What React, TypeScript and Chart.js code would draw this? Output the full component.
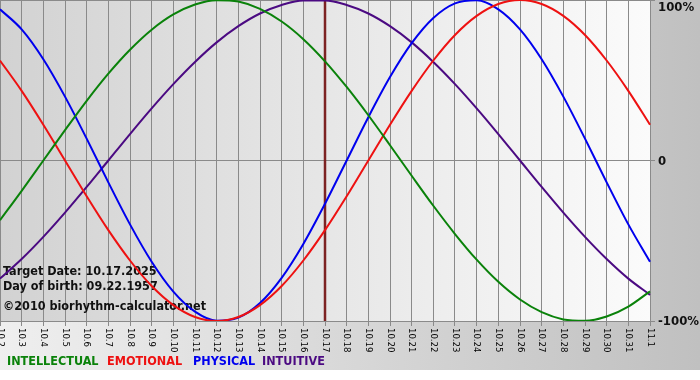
import React, { useEffect, useRef } from "react";
import { Chart, registerables } from "chart.js";

Chart.register(...registerables);

const days = [
  "10.2", "10.3", "10.4", "10.5", "10.6", "10.7", "10.8", "10.9", "10.10", "10.11",
  "10.12", "10.13", "10.14", "10.15", "10.16", "10.17", "10.18", "10.19", "10.20", "10.21",
  "10.22", "10.23", "10.24", "10.25", "10.26", "10.27", "10.28", "10.29", "10.30", "10.31", "11.1",
];

const intellectual = [-37.2, -18.9, 0, 18.9, 37.2, 54.1, 69.0, 81.5, 91.0, 97.2, 99.9, 99.0, 94.5, 86.6, 75.6, 61.8, 45.8, 28.2, 9.5, -9.5, -28.2, -45.8, -61.8, -75.6, -86.6, -94.5, -99.0, -99.9, -97.2, -91.0, -81.5];
const emotional = [62.3, 43.4, 22.3, 0, -22.3, -43.4, -62.3, -78.2, -90.1, -97.5, -100, -97.5, -90.1, -78.2, -62.3, -43.4, -22.3, 0, 22.3, 43.4, 62.3, 78.2, 90.1, 97.5, 100, 97.5, 90.1, 78.2, 62.3, 43.4, 22.3];
const physical = [94.2, 81.7, 63.1, 39.8, 13.6, -13.6, -39.8, -63.1, -81.7, -94.2, -99.8, -97.9, -88.8, -73.1, -52.0, -27.0, 0, 27.0, 52.0, 73.1, 88.8, 97.9, 99.8, 94.2, 81.7, 63.1, 39.8, 13.6, -13.6, -39.8, -63.1];
const intuitive = [-73.6, -61.4, -47.6, -32.5, -16.5, 0, 16.5, 32.5, 47.6, 61.4, 73.6, 83.7, 91.6, 96.9, 99.7, 99.7, 96.9, 91.6, 83.7, 73.6, 61.4, 47.6, 32.5, 16.5, 0, -16.5, -32.5, -47.6, -61.4, -73.6, -83.7];

const seriesNames = ["INTELLECTUAL", "EMOTIONAL", "PHYSICAL", "INTUITIVE"];
const seriesColors = ["#0a820a", "#ee1111", "#0000ee", "#4b0a82"];
const yTickValues = [100, 0, -100];
const yTickLabels = ["100%", "0", "-100%"];

const targetDay = "10.17";
const targetDateText = "Target Date: 10.17.2025";
const birthDateText = "Day of birth: 09.22.1957";
const copyrightText = "\u00a92010 biorhythm-calculator.net";

const FONT = "'DejaVu Sans Condensed', 'DejaVu Sans', sans-serif";

const decorPlugin = {
  id: "decor",
  beforeDraw(chart: any) {
    const { ctx, chartArea: a, width, height } = chart;
    ctx.save();
    ctx.fillStyle = "#ffffff";
    ctx.fillRect(0, 0, width, height);
    const g = ctx.createLinearGradient(0, 0, width, 0);
    g.addColorStop(0, "#efefef");
    g.addColorStop(1, "#c0c0c0");
    ctx.fillStyle = g;
    ctx.fillRect(0, 0, width, 370);
    const g2 = ctx.createLinearGradient(a.left, 0, a.right, 0);
    g2.addColorStop(0, "#d2d2d2");
    g2.addColorStop(1, "#fbfbfb");
    ctx.fillStyle = g2;
    ctx.fillRect(a.left, a.top, a.right - a.left, a.bottom - a.top);
    ctx.restore();
  },
  beforeDatasetsDraw(chart: any) {
    const { ctx, chartArea: a, scales } = chart;
    ctx.save();
    const tx = scales.x.getPixelForValue(days.indexOf(targetDay));
    ctx.strokeStyle = "#7d2323";
    ctx.lineWidth = 2.5;
    ctx.beginPath();
    ctx.moveTo(tx, a.top);
    ctx.lineTo(tx, a.bottom);
    ctx.stroke();

    ctx.fillStyle = "#111111";
    ctx.font = "bold 12.5px " + FONT;
    ctx.textAlign = "left";
    ctx.textBaseline = "middle";
    ctx.fillText(targetDateText, 3, 272);
    ctx.fillText(birthDateText, 3, 287);
    ctx.fillText(copyrightText, 3, 307);
    ctx.restore();
  },
  afterDraw(chart: any) {
    const { ctx, chartArea: a, scales } = chart;
    ctx.save();
    ctx.fillStyle = "#000000";
    ctx.font = "9.5px " + FONT;
    ctx.textAlign = "left";
    ctx.textBaseline = "middle";
    days.forEach((d, i) => {
      const x = scales.x.getPixelForValue(i);
      ctx.save();
      ctx.translate(x, a.bottom + 7);
      ctx.rotate(Math.PI / 2);
      ctx.fillText(d, 0, 0);
      ctx.restore();
    });
    ctx.font = "bold 13px " + FONT;
    ctx.fillStyle = "#111111";
    yTickValues.forEach((v, i) => {
      let y = scales.y.getPixelForValue(v) + 1;
      if (y < 8) y = 8;
      ctx.fillText(yTickLabels[i], a.right + 8, y);
    });
    ctx.font = "bold 12.5px " + FONT;
    const legendX = [7, 107, 193, 262];
    seriesNames.forEach((n, i) => {
      ctx.fillStyle = seriesColors[i];
      ctx.fillText(n, legendX[i], 362);
    });
    ctx.restore();
  },
};

export default function App() {
  const ref = useRef<HTMLCanvasElement | null>(null);

  useEffect(() => {
    document.body.style.margin = "0";
    const canvas = ref.current;
    if (!canvas) return;
    const allSeries = [intellectual, emotional, physical, intuitive];
    const chart = new Chart(canvas, {
      type: "line",
      data: {
        labels: days,
        datasets: allSeries.map((s, i) => ({
          label: seriesNames[i],
          data: s,
          borderColor: seriesColors[i],
          backgroundColor: seriesColors[i],
          borderWidth: 2,
          pointRadius: 0,
          cubicInterpolationMode: "monotone",
          fill: false,
        })),
      },
      options: {
        responsive: false,
        animation: false,
        devicePixelRatio: 1,
        layout: { padding: 0 },
        plugins: {
          legend: { display: false },
          tooltip: { enabled: false },
        },
        scales: {
          x: {
            type: "category",
            offset: false,
            grid: { color: "#8a8a8a", lineWidth: 1, tickLength: 5, drawTicks: true, offset: false },
            border: { display: true, color: "#8a8a8a" },
            ticks: { display: false, autoSkip: false },
            afterFit: (s: any) => {
              s.height = 59;
            },
          },
          y: {
            position: "right",
            min: -100,
            max: 100,
            grid: { color: "#8a8a8a", lineWidth: 1, tickLength: 5, drawTicks: true },
            border: { display: true, color: "#8a8a8a" },
            ticks: { display: false, stepSize: 100 },
            afterFit: (s: any) => {
              s.width = 50;
            },
          },
        },
      },
      plugins: [decorPlugin],
    });
    return () => chart.destroy();
  }, []);

  return <canvas ref={ref} width={700} height={380} style={{ display: "block" }} />;
}
